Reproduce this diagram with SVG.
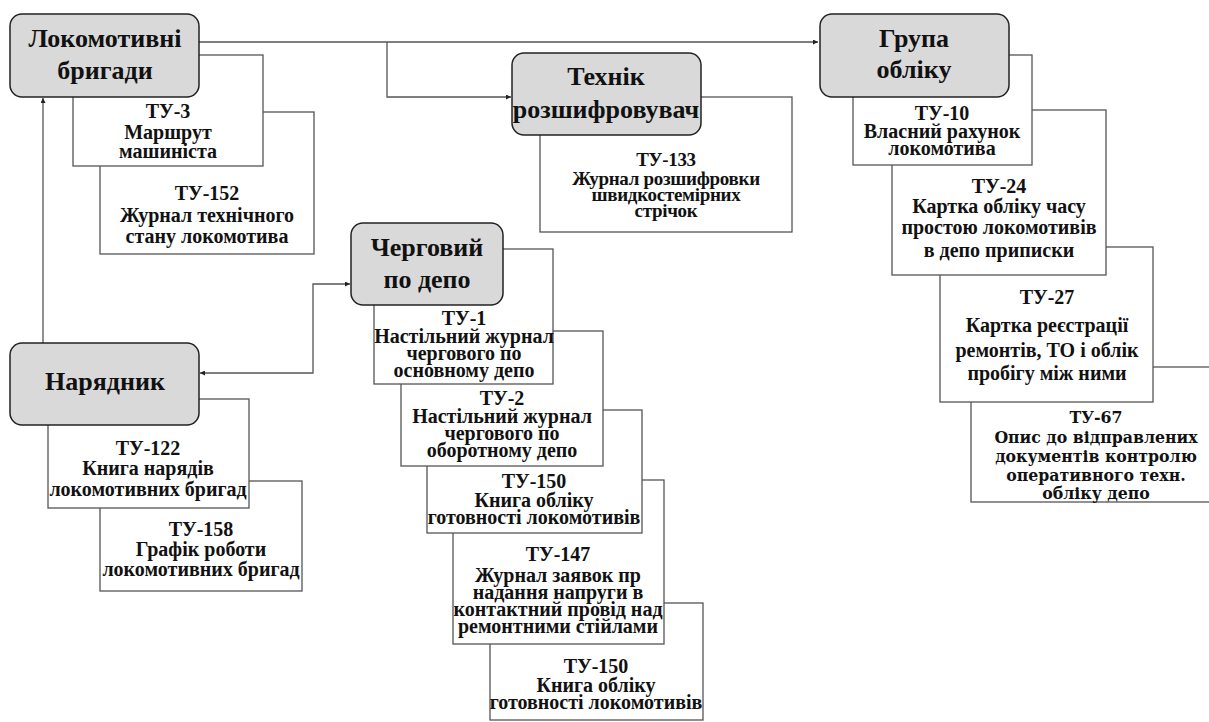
<svg xmlns="http://www.w3.org/2000/svg" width="1209" height="722" viewBox="0 0 1209 722">
<defs>
<marker id="arr" viewBox="0 0 6 6" refX="6" refY="3" markerWidth="5" markerHeight="5" orient="auto-start-reverse" markerUnits="userSpaceOnUse">
<path d="M0,0 L6,3 L0,6 Z" fill="#222"/>
</marker>
<style>
.main{fill:#d9d9d9;stroke:#222;stroke-width:1.5}
.doc{fill:#fff;stroke:#555;stroke-width:1.3}
.conn{fill:none;stroke:#555;stroke-width:1.3}
text{font-family:"Liberation Serif","Times New Roman",serif;font-weight:bold;fill:#111;text-anchor:middle}
.mt{font-size:26px}
.dt{font-size:20px}
.ct{font-size:19px;letter-spacing:-0.3px}
.wt{font-family:"DejaVu Serif Condensed","DejaVu Serif",serif;font-size:17.5px}
</style>
</defs>
<rect width="1209" height="722" fill="#fff"/>

<g id="connectors">
<path class="conn" d="M199,42 H818" marker-end="url(#arr)"/>
<path class="conn" d="M387,42 V97 H511" marker-end="url(#arr)"/>
<path class="conn" d="M43,343 V98" marker-end="url(#arr)"/>
<path class="conn" d="M350,284 H313 V373 H200" marker-start="url(#arr)" marker-end="url(#arr)"/>
</g>

<g id="tu152">
<rect class="doc" x="100" y="112" width="214" height="142"/>
<text class="dt" x="207" y="200">ТУ-152</text>
<text class="dt" x="207" y="222">Журнал технічного</text>
<text class="dt" x="207" y="243">стану локомотива</text>
</g>
<g id="tu3">
<rect class="doc" x="73" y="55" width="190" height="111"/>
<text class="dt" x="168" y="118">ТУ-3</text>
<text class="dt" x="168" y="139">Маршрут</text>
<text class="dt" x="168" y="158">машиніста</text>
</g>
<g id="lokomotyvni">
<rect class="main" x="10" y="14" width="189" height="83" rx="12"/>
<text class="mt" x="105" y="47">Локомотивні</text>
<text class="mt" x="105" y="79">бригади</text>
</g>

<g id="tu133">
<rect class="doc" x="540" y="97" width="252" height="135"/>
<text class="ct" x="666" y="166">ТУ-133</text>
<text class="ct" x="666" y="185">Журнал розшифровки</text>
<text class="ct" x="666" y="201">швидкостемірних</text>
<text class="ct" x="666" y="217">стрічок</text>
</g>
<g id="tekhnik">
<rect class="main" x="512" y="53" width="189" height="82" rx="12"/>
<text class="mt" x="606" y="85">Технік</text>
<text class="mt" x="606" y="118">розшифровувач</text>
</g>

<g id="tu67">
<rect class="doc" x="971" y="367" width="252" height="135"/>
<text class="wt" x="1096" y="423">ТУ-67</text>
<text class="wt" x="1096" y="443">Опис до відправлених</text>
<text class="wt" x="1096" y="462">документів контролю</text>
<text class="wt" x="1096" y="481">оперативного техн.</text>
<text class="wt" x="1096" y="499">обліку депо</text>
</g>
<g id="tu27">
<rect class="doc" x="940" y="247" width="213" height="155"/>
<text class="dt" x="1047" y="304">ТУ-27</text>
<text class="dt" x="1047" y="332">Картка реєстрації</text>
<text class="dt" x="1047" y="357">ремонтів, ТО і облік</text>
<text class="dt" x="1047" y="380">пробігу між ними</text>
</g>
<g id="tu24">
<rect class="doc" x="892" y="110" width="214" height="165"/>
<text class="dt" x="999" y="193">ТУ-24</text>
<text class="dt" x="999" y="213">Картка обліку часу</text>
<text class="dt" x="999" y="234">простою локомотивів</text>
<text class="dt" x="999" y="257">в депо приписки</text>
</g>
<g id="tu10">
<rect class="doc" x="853" y="55" width="179" height="110"/>
<text class="dt" x="942" y="120">ТУ-10</text>
<text class="dt" x="942" y="138">Власний рахунок</text>
<text class="dt" x="942" y="155">локомотива</text>
</g>
<g id="grupa">
<rect class="main" x="820" y="14" width="189" height="83" rx="12"/>
<text class="mt" x="914" y="47">Група</text>
<text class="mt" x="914" y="78">обліку</text>
</g>

<g id="tu158">
<rect class="doc" x="100" y="481" width="202" height="110"/>
<text class="dt" x="201" y="536">ТУ-158</text>
<text class="dt" x="201" y="556">Графік роботи</text>
<text class="dt" x="201" y="576">локомотивних бригад</text>
</g>
<g id="tu122">
<rect class="doc" x="48" y="399" width="201" height="109"/>
<text class="dt" x="148" y="455">ТУ-122</text>
<text class="dt" x="148" y="475">Книга нарядів</text>
<text class="dt" x="148" y="496">локомотивних бригад</text>
</g>
<g id="naryadnyk">
<rect class="main" x="10" y="343" width="189" height="82" rx="12"/>
<text class="mt" x="105" y="390">Нарядник</text>
</g>

<g id="tu150b">
<rect class="doc" x="490" y="603" width="213" height="117"/>
<text class="dt" x="596" y="673">ТУ-150</text>
<text class="dt" x="596" y="692">Книга обліку</text>
<text class="dt" x="596" y="709">готовності локомотивів</text>
</g>
<g id="tu147">
<rect class="doc" x="453" y="480" width="211" height="164"/>
<text class="dt" x="558" y="561">ТУ-147</text>
<text class="dt" x="558" y="582">Журнал заявок пр</text>
<text class="dt" x="558" y="599">надання напруги в</text>
<text class="dt" x="558" y="616">контактний провід над</text>
<text class="dt" x="558" y="633">ремонтними стійлами</text>
</g>
<g id="tu150a">
<rect class="doc" x="427" y="410" width="215" height="123"/>
<text class="dt" x="534" y="488">ТУ-150</text>
<text class="dt" x="534" y="507">Книга обліку</text>
<text class="dt" x="534" y="524">готовності локомотивів</text>
</g>
<g id="tu2">
<rect class="doc" x="401" y="331" width="202" height="135"/>
<text class="dt" x="502" y="405">ТУ-2</text>
<text class="dt" x="502" y="423">Настільний журнал</text>
<text class="dt" x="502" y="440">чергового по</text>
<text class="dt" x="502" y="457">оборотному депо</text>
</g>
<g id="tu1">
<rect class="doc" x="374" y="249" width="179" height="135"/>
<text class="dt" x="464" y="325">ТУ-1</text>
<text class="dt" x="464" y="343">Настільний журнал</text>
<text class="dt" x="464" y="360">чергового по</text>
<text class="dt" x="464" y="377">основному депо</text>
</g>
<g id="chergovyi">
<rect class="main" x="351" y="223" width="152" height="82" rx="12"/>
<text class="mt" x="427" y="256">Черговий</text>
<text class="mt" x="427" y="288">по депо</text>
</g>
</svg>
